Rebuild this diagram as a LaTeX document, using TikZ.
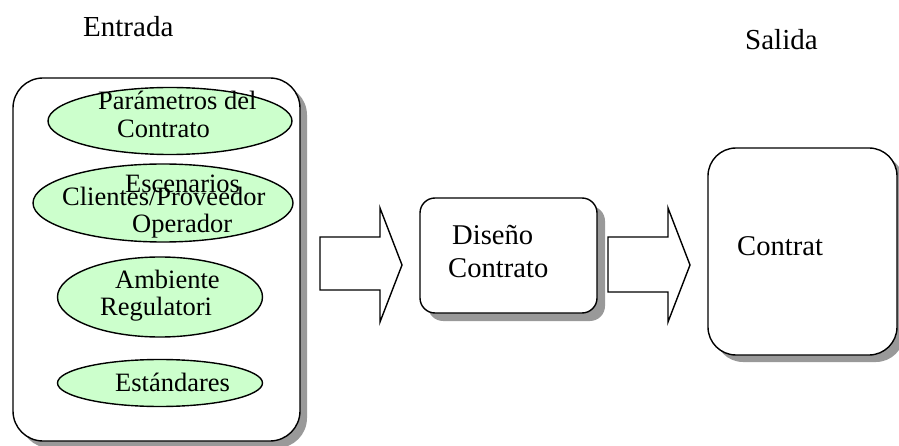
\documentclass[tikz,border=0pt]{standalone}
\usepackage{fontspec}
\setmainfont{Liberation Serif}
\usetikzlibrary{shapes.geometric,shadows}
\definecolor{ovalgreen}{HTML}{CCFFCC}
\definecolor{shadowgray}{HTML}{999999}
\tikzset{
  boxshape/.style={draw=black, line width=1.4pt, fill=white, rectangle, inner sep=0pt},
  oval/.style={draw=black, line width=1.4pt, fill=ovalgreen, ellipse, inner sep=0pt},
  bigtxt/.style={anchor=base west, inner sep=0pt, font=\fontsize{29}{32}\selectfont},
  boxtxt/.style={anchor=base west, inner sep=0pt, font=\fontsize{28.6}{32}\selectfont},
  ovaltxt/.style={anchor=base west, inner sep=0pt, font=\fontsize{26.5}{30}\selectfont},
  blockarrow/.style={draw=black, line width=1.4pt, fill=white, line join=miter},
  shad/.style={drop shadow={shadow xshift=#1, shadow yshift=-#1, fill=shadowgray, opacity=1}}
}
\begin{document}
\begin{tikzpicture}[x=1pt, y=-1pt]
\useasboundingbox (0,0) rectangle (899,446);
% titles
\node[bigtxt] (entrada) at (83,37) {Entrada};
\node[bigtxt] (salida) at (745,50) {Salida};
% input box
\node[boxshape, rounded corners=30pt, minimum width=287pt, minimum height=363pt, shad=7pt] (inbox) at (156.5,259.5) {};
% ellipses
\node[oval, minimum width=244pt, minimum height=67pt] (e1) at (170,121) {};
\node[ovaltxt] (e1a) at (98,110) {Parámetros del};
\node[ovaltxt] (e1b) at (117,138) {Contrato};
\node[oval, minimum width=260pt, minimum height=78pt] (e2) at (163,203) {};
\node[ovaltxt] (e2a) at (125,193) {Escenarios};
\node[ovaltxt] (e2b) at (62,206) {Clientes/Proveedor};
\node[ovaltxt] (e2c) at (132,233) {Operador};
\node[oval, minimum width=205pt, minimum height=80pt] (e3) at (160,297) {};
\node[ovaltxt] (e3a) at (115,288) {Ambiente};
\node[ovaltxt] (e3b) at (100,315) {Regulatori};
\node[oval, minimum width=205pt, minimum height=47pt] (e4) at (160,383) {};
\node[ovaltxt] (e4a) at (115,391) {Estándares};
% block arrows
\draw[blockarrow] (320,237) -- (380,237) -- (380,208) -- (402,265) -- (380,322) -- (380,290) -- (320,290) -- cycle;
\draw[blockarrow] (608,237) -- (668,237) -- (668,208) -- (690,265) -- (668,322) -- (668,292) -- (608,292) -- cycle;
% design box
\node[boxshape, rounded corners=15pt, minimum width=177pt, minimum height=115pt, shad=8pt] (diseno) at (508.5,255.5) {};
\node[boxtxt] (d1) at (452,245) {Diseño};
\node[boxtxt] (d2) at (448,277) {Contrato};
% output box
\node[boxshape, rounded corners=28pt, minimum width=189pt, minimum height=207pt, shad=7pt] (out) at (802.5,251.5) {};
\node[boxtxt] (c1) at (737,256) {Contrat};
\end{tikzpicture}
\end{document}
